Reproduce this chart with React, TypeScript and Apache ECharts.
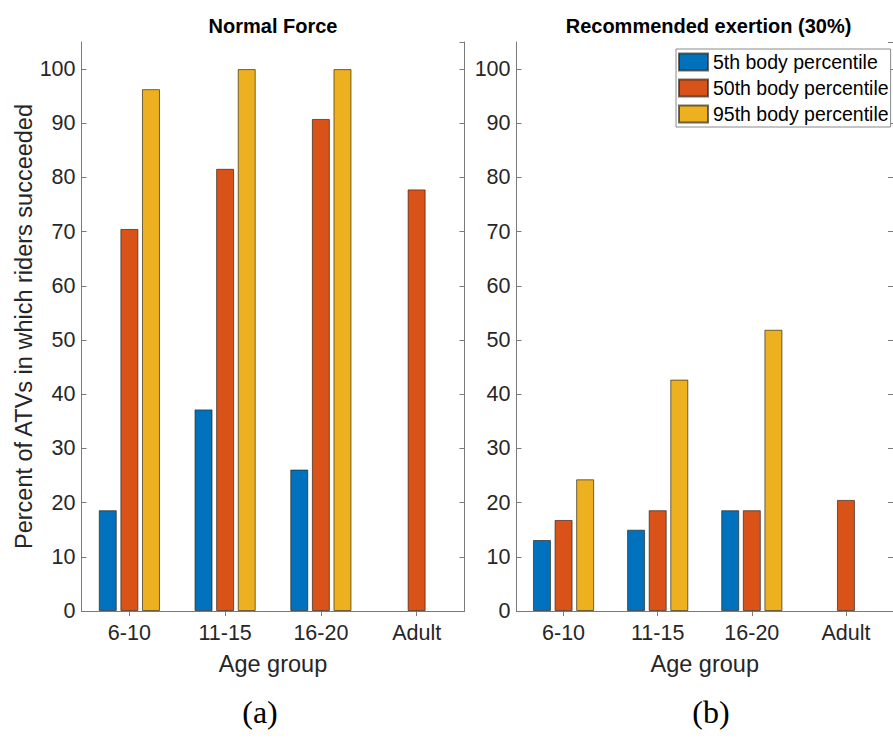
import React, { useEffect, useRef } from "react";
import * as echarts from "echarts";

const categories = ["6-10", "11-15", "16-20", "Adult"];
const seriesNames = ["5th body percentile", "50th body percentile", "95th body percentile"];
const normal5th = [18.6, 37.2, 26.1, null];
const normal50th = [70.5, 81.6, 90.8, 77.8];
const normal95th = [96.3, 100, 100, null];
const rec5th = [13.1, 15.0, 18.6, null];
const rec50th = [16.8, 18.6, 18.6, 20.5];
const rec95th = [24.3, 42.7, 51.9, null];
const panelTitles = ["Normal Force", "Recommended exertion (30%)"];
const captions = ["(a)", "(b)"];
const yName = "Percent of ATVs in which riders succeeded";
const xName = "Age group";

const colors = ["#0072BD", "#D95319", "#EDB120"];
const FONT = "'Liberation Sans', Arial, Helvetica, sans-serif";
const TXT = "#262626";
const AX = "#7a7a7a";

export default function App() {
  const ref = useRef<HTMLDivElement>(null);
  useEffect(() => {
    if (!ref.current) return;
    const chart = echarts.init(ref.current, null, { renderer: "svg" });
    const grids = [
      { left: 81.5, top: 42, width: 383, height: 569 },
      { left: 516.5, top: 42, width: 384, height: 569 },
    ];
    const xAxes: any[] = [];
    const yAxes: any[] = [];
    grids.forEach((_, gi) => {
      xAxes.push({
        type: "category",
        gridIndex: gi,
        data: categories,
        position: "bottom",
        name: xName,
        nameLocation: "middle",
        nameGap: 41,
        nameTextStyle: { fontSize: 23.5, color: TXT, fontFamily: FONT },
        axisLine: { show: true, lineStyle: { color: AX, width: 1 } },
        axisTick: { show: true, inside: true, length: 5, alignWithLabel: true, lineStyle: { color: AX } },
        axisLabel: { fontSize: 21.5, color: TXT, fontFamily: FONT, margin: 11 },
        splitLine: { show: false },
      });
      xAxes.push({
        type: "category",
        gridIndex: gi,
        data: categories,
        position: "top",
        axisLine: { show: true, lineStyle: { color: AX, width: 1 } },
        axisTick: { show: true, inside: true, length: 5, alignWithLabel: true, lineStyle: { color: AX } },
        axisLabel: { show: false },
        splitLine: { show: false },
      });
      yAxes.push({
        type: "value",
        gridIndex: gi,
        position: "left",
        min: 0,
        max: 105,
        interval: 10,
        name: gi === 0 ? yName : "",
        nameLocation: "middle",
        nameGap: 45,
        nameTextStyle: { fontSize: 23.5, color: TXT, fontFamily: FONT },
        axisLine: { show: true, lineStyle: { color: AX, width: 1 } },
        axisTick: { show: true, inside: true, length: 5, lineStyle: { color: AX } },
        axisLabel: { fontSize: 21.5, color: TXT, fontFamily: FONT, margin: 6, showMaxLabel: false },
        splitLine: { show: false },
      });
      yAxes.push({
        type: "value",
        gridIndex: gi,
        position: "right",
        min: 0,
        max: 105,
        interval: 10,
        axisLine: { show: true, lineStyle: { color: AX, width: 1 } },
        axisTick: { show: true, inside: true, length: 5, lineStyle: { color: AX } },
        axisLabel: { show: false },
        splitLine: { show: false },
      });
    });

    const panelData = [
      [normal5th, normal50th, normal95th],
      [rec5th, rec50th, rec95th],
    ];
    const series: any[] = [];
    panelData.forEach((sets, gi) => {
      sets.forEach((vals, si) => {
        series.push({
          type: "bar",
          name: seriesNames[si],
          xAxisIndex: gi * 2,
          yAxisIndex: gi * 2,
          data: vals.map((v) => (v === null ? "-" : v)),
          barWidth: 18,
          barGap: "20%",
          itemStyle: { color: colors[si], borderColor: "rgba(40,30,20,0.65)", borderWidth: 1 },
          emphasis: { disabled: true },
        });
      });
    });

    chart.setOption({
      animation: false,
      backgroundColor: "#ffffff",
      grid: grids,
      xAxis: xAxes,
      yAxis: yAxes,
      series,
      title: panelTitles.map((t, i) => ({
        text: t,
        left: i === 0 ? 273 : 708.5,
        top: 16,
        textAlign: "center",
        padding: 0,
        textStyle: { fontSize: 20, fontWeight: "bold", color: "#000", fontFamily: FONT },
      })),
      legend: {
        data: seriesNames,
        orient: "vertical",
        left: 676,
        top: 49,
        itemWidth: 29,
        itemHeight: 17,
        itemGap: 6,
        itemTextGap: 3,
        padding: [3, 2, 3, 2],
        borderColor: "#8a8a8a",
        borderWidth: 1,
        backgroundColor: "#ffffff",
        icon: "rect",
        selectedMode: false,
        textStyle: { fontSize: 19.5, color: "#000", fontFamily: FONT },
      },
      graphic: captions.map((c, i) => ({
        type: "text",
        x: i === 0 ? 260 : 711,
        y: 712,
        style: {
          text: c,
          fontSize: 32,
          fontFamily: "'Liberation Serif', 'Times New Roman', serif",
          fill: "#000",
          textAlign: "center",
          textVerticalAlign: "middle",
        },
      })),
    });
    return () => chart.dispose();
  }, []);
  return (
    <div
      ref={ref}
      style={{ position: "absolute", left: 0, top: 0, width: 893, height: 755, background: "#fff" }}
    />
  );
}
